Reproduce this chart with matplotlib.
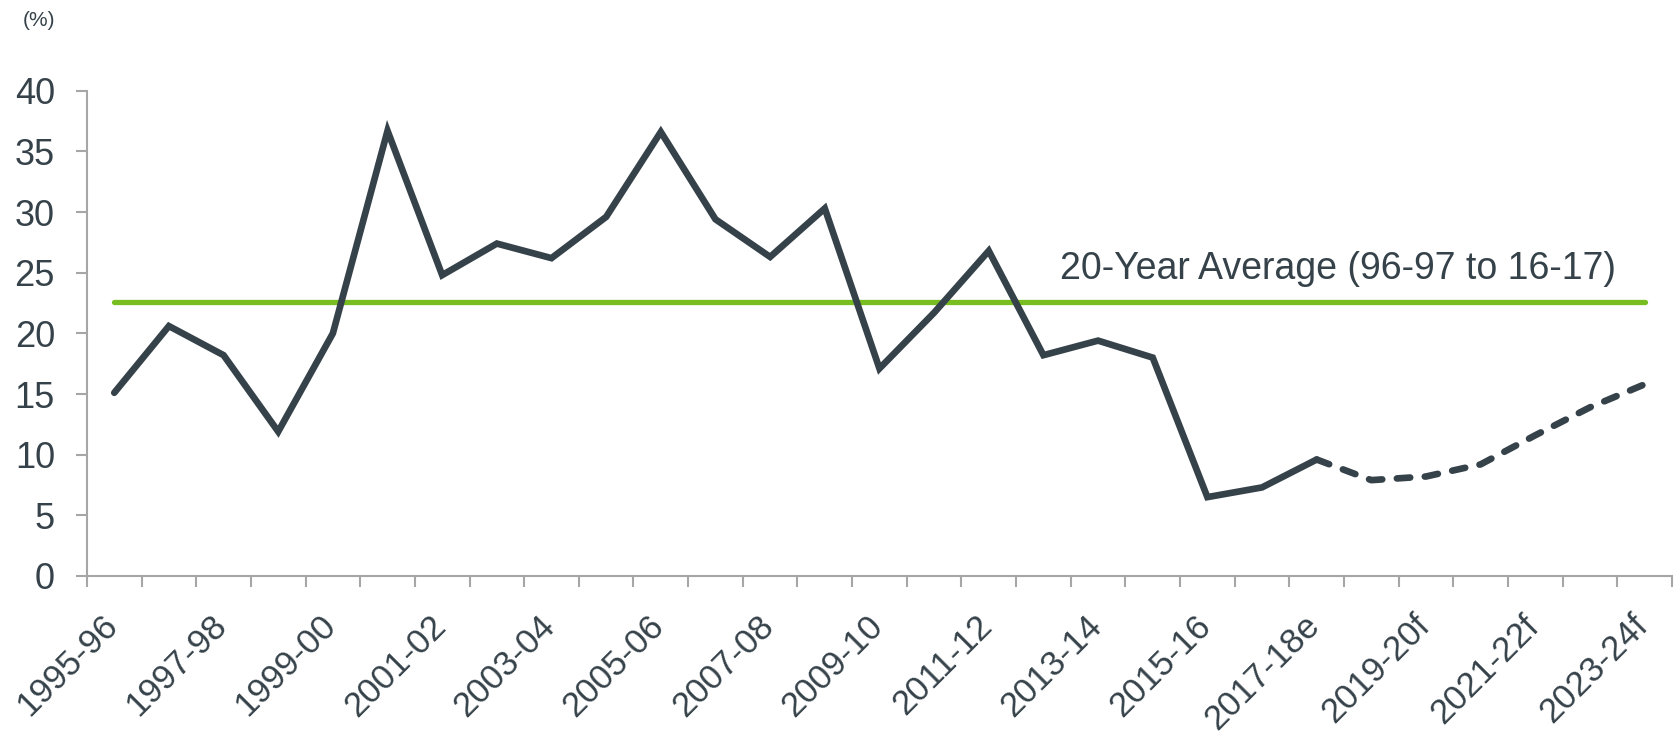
import matplotlib
matplotlib.use("Agg")
import matplotlib.pyplot as plt
import matplotlib.transforms as mtransforms

plt.rcParams['font.family'] = ['Liberation Sans', 'DejaVu Sans']

years = ["1995-96", "1996-97", "1997-98", "1998-99", "1999-00", "2000-01",
         "2001-02", "2002-03", "2003-04", "2004-05", "2005-06", "2006-07",
         "2007-08", "2008-09", "2009-10", "2010-11", "2011-12", "2012-13",
         "2013-14", "2014-15", "2015-16", "2016-17", "2017-18e", "2018-19f",
         "2019-20f", "2020-21f", "2021-22f", "2022-23f", "2023-24f"]
values = [15.1, 20.6, 18.2, 11.9, 20.0, 36.7, 24.8, 27.4, 26.2, 29.6,
          36.6, 29.4, 26.3, 30.3, 17.1, 21.7, 26.8, 18.2, 19.4, 18.0,
          6.5, 7.3, 9.6, 7.9, 8.2, 9.2, 11.6, 13.9, 15.8]
first_forecast = 22  # dashed from 2017-18e onward
avg_value = 22.6
avg_label = "20-Year Average (96-97 to 16-17)"

dark = "#36424a"
green = "#78be20"
grey = "#a6a6a6"

fig = plt.figure(figsize=(16.78, 7.34), dpi=100)
ax = fig.add_axes([0.0518, 0.2153, 0.9446, 0.6611])

x = list(range(len(years)))

ax.plot([x[0], x[-1]], [avg_value, avg_value], color=green, lw=3.8,
        solid_capstyle='round', zorder=2)
ax.plot(x[:first_forecast + 1], values[:first_forecast + 1], color=dark, lw=4.8,
        solid_capstyle='round', solid_joinstyle='miter', zorder=3)
ax.plot(x[first_forecast:], values[first_forecast:], color=dark, lw=4.8,
        dashes=(2.0, 2.2), dash_capstyle='round', zorder=3)

ax.text(27.48, 24.5, avg_label, ha='right', va='baseline', fontsize=27, color=dark)

ax.set_xlim(-0.5, len(years) - 0.5)
ax.set_ylim(0, 40)
ax.set_yticks(range(0, 41, 5))
ax.tick_params(axis='y', labelsize=26, labelcolor=dark, color=grey,
               length=8, width=1.5, pad=15)

ax.set_xticks(x[::2])
ax.set_xticklabels(years[::2], rotation=45, ha='right', va='baseline',
                   rotation_mode='anchor')
ax.set_xticks([i - 0.5 for i in range(len(years) + 1)], minor=True)
ax.tick_params(axis='x', which='major', length=0, labelsize=25,
               labelcolor=dark, pad=37)
ax.tick_params(axis='x', which='minor', length=8, width=1.5, color=grey)

shift = mtransforms.ScaledTranslation(5 / 100, 0, fig.dpi_scale_trans)
for lab in ax.get_xticklabels():
    lab.set_transform(lab.get_transform() + shift)

for s in ['top', 'right']:
    ax.spines[s].set_visible(False)
for s in ['left', 'bottom']:
    ax.spines[s].set_color(grey)
    ax.spines[s].set_linewidth(1.5)

fig.text(0.0235, 0.972, "(%)", fontsize=15, color=dark, ha='center', va='center')

fig.savefig("out.png", dpi=100)
